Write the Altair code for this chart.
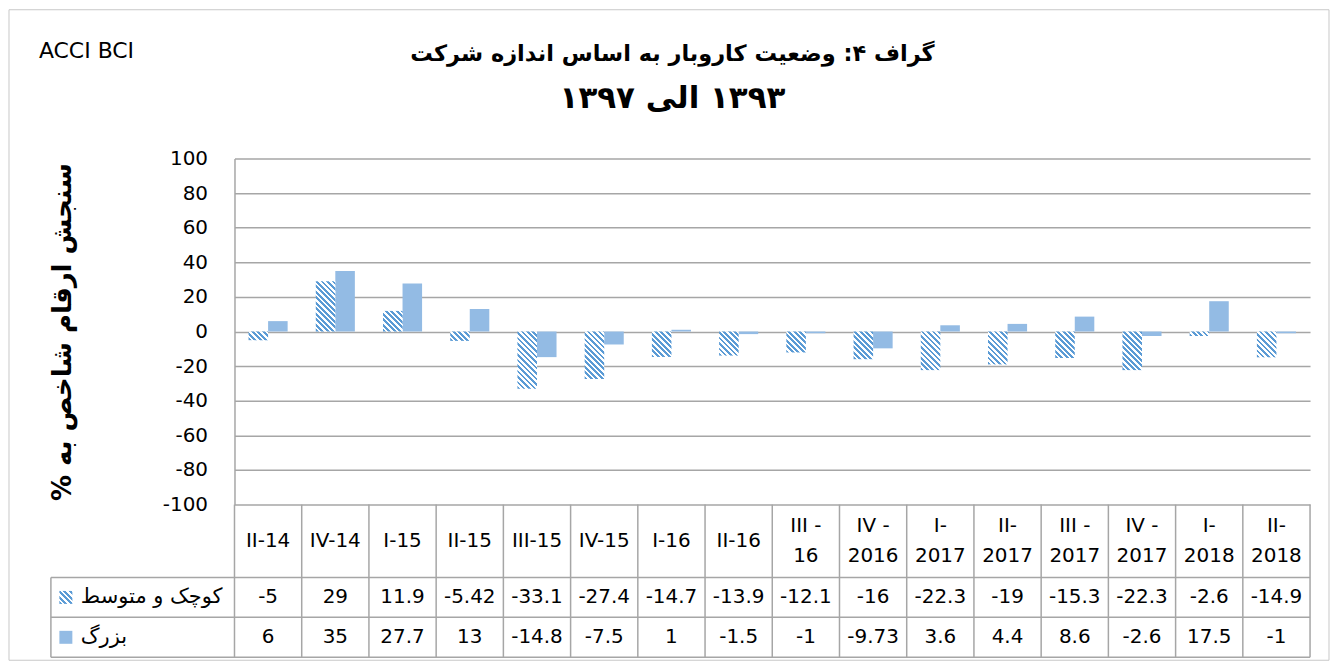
import altair as alt
import pandas as pd

# ---------------- data ----------------
categories = ["II-14", "IV-14", "I-15", "II-15", "III-15", "IV-15", "I-16", "II-16",
              "III - 16", "IV - 2016", "I- 2017", "II- 2017", "III - 2017", "IV - 2017",
              "I- 2018", "II- 2018"]
category_labels = ["II-14", "IV-14", "I-15", "II-15", "III-15", "IV-15", "I-16", "II-16",
                   "III -\n16", "IV -\n2016", "I-\n2017", "II-\n2017", "III -\n2017",
                   "IV -\n2017", "I-\n2018", "II-\n2018"]
series_names = ["کوچک و متوسط", "بزرگ"]
small_medium = [-5, 29, 11.9, -5.42, -33.1, -27.4, -14.7, -13.9, -12.1, -16, -22.3, -19,
                -15.3, -22.3, -2.6, -14.9]
large = [6, 35, 27.7, 13, -14.8, -7.5, 1, -1.5, -1, -9.73, 3.6, 4.4, 8.6, -2.6, 17.5, -1]
y_ticks = [-100, -80, -60, -40, -20, 0, 20, 40, 60, 80, 100]

title_line1 = "\u200fگراف ۴: وضعیت کاروبار به اساس اندازه شرکت"
title_line2 = "\u200f۱۳۹۳ الی ۱۳۹۷"
y_title = "\u200fسنجش ارقام شاخص به %\u200f"
source_label = "ACCI BCI"

# ---------------- layout / style ----------------
FONT = "DejaVu Sans"
W = 1078          # plot width
PH = 347          # bar area height
HDR = 73          # header row height
ROW = 40          # data row height
TB = PH + HDR + 2 * ROW
LEFT = -184       # left edge of the table label column
LH = 31           # line height of two-line header labels
PAD_OUT = 0.72
BAR_W = W / len(categories) / (2 + 2 * PAD_OUT)
HATCH = "#5b9bd5"
SOLID = "#93bbe4"
LINE = "#a6a6a6"
BORDER = "#c8c8c8"
TXT = 20


def hatch_gradient(w, h, p=5.5):
    h = max(h, 0.5)
    r = h / w
    k = (1 + r) / (1 + r * r)
    n = (w + h) / p
    stops = []
    j = 0
    while j < n:
        a = j / n
        b = min((j + 0.52) / n, 1)
        c = min((j + 1) / n, 1)
        stops += [(a, HATCH), (b, HATCH), (b, "white"), (c, "white")]
        j += 1
    return {"gradient": "linear", "x1": 0, "y1": 1, "x2": k, "y2": 1 - k * r,
            "stops": [{"offset": o, "color": col} for o, col in stops]}


df_small = pd.DataFrame({"cat": categories, "series": series_names[0], "value": small_medium,
                         "txt": [f"{v:g}" for v in small_medium]})
df_large = pd.DataFrame({"cat": categories, "series": series_names[1], "value": large,
                         "txt": [f"{v:g}" for v in large]})
df_cats = pd.DataFrame({"cat": categories, "label": category_labels,
                        "multi": ["\n" in s for s in category_labels]})

x_scale = alt.Scale(domain=categories, paddingInner=0, paddingOuter=0)
bar_x = alt.X("cat:N", scale=x_scale, axis=None)
bar_y = alt.Y(
    "value:Q",
    scale=alt.Scale(domain=[-100, 100], range=[PH, 0], nice=False, zero=False),
    axis=alt.Axis(values=y_ticks, grid=True, gridColor=LINE, gridWidth=1.5,
                  ticks=False, tickSize=0, domain=True, domainColor=LINE, domainWidth=1.5,
                  labelExpr="'' + datum.value",
                  labelFont=FONT, labelFontSize=TXT, labelColor="black", labelPadding=27,
                  title=y_title, titleFont=FONT, titleFontSize=26, titleFontWeight="bold",
                  titleColor="black", titleAngle=270, titleAlign="center",
                  titleBaseline="middle", titleX=-172, titleY=PH / 2),
)
xoff = alt.XOffset("series:N", scale=alt.Scale(domain=series_names, paddingInner=0,
                                               paddingOuter=PAD_OUT))

layers = []

# solid bars
layers.append(alt.Chart(df_large).mark_bar(color=SOLID).encode(x=bar_x, xOffset=xoff, y=bar_y))

# hatched bars (one gradient per bar so the stripes stay at 45 degrees)
for c, v in zip(categories, small_medium):
    grad = hatch_gradient(BAR_W, abs(v) * PH / 200)
    layers.append(
        alt.Chart(df_small).transform_filter(alt.datum.cat == c)
        .mark_bar(fill=grad, strokeWidth=0)
        .encode(x=bar_x, xOffset=xoff, y=bar_y)
    )

# table vertical lines
layers.append(
    alt.Chart(df_cats).mark_rule(color=LINE, strokeWidth=1.5).encode(
        x=alt.X("cat:N", scale=x_scale, axis=None, bandPosition=0),
        y=alt.value(PH), y2=alt.value(TB))
)
one = pd.DataFrame({"k": [0]})
layers.append(alt.Chart(one).mark_rule(color=LINE, strokeWidth=1.5).encode(
    x=alt.value(W), y=alt.value(PH), y2=alt.value(TB)))
layers.append(alt.Chart(one).mark_rule(color=LINE, strokeWidth=1.5).encode(
    x=alt.value(LEFT), y=alt.value(PH + HDR), y2=alt.value(TB)))
# table horizontal lines
for yy in [PH + HDR, PH + HDR + ROW, TB]:
    layers.append(alt.Chart(one).mark_rule(color=LINE, strokeWidth=1.5).encode(
        x=alt.value(LEFT), x2=alt.value(W), y=alt.value(yy)))

# header labels (single-line ones centred, two-line ones block-centred)
for multi, yy in [(False, PH + HDR / 2), (True, PH + HDR / 2 - LH / 2)]:
    layers.append(
        alt.Chart(df_cats).transform_filter(alt.datum.multi == multi)
        .mark_text(font=FONT, fontSize=TXT, lineBreak="\n", lineHeight=LH,
                   baseline="middle", color="black")
        .encode(x=bar_x, y=alt.value(yy), text="label:N")
    )
# table values
for dfi, yy in [(df_small, PH + HDR + ROW / 2), (df_large, PH + HDR + ROW * 1.5)]:
    layers.append(
        alt.Chart(dfi).mark_text(font=FONT, fontSize=TXT, baseline="middle", color="black")
        .encode(x=bar_x, y=alt.value(yy), text="txt:N")
    )

# row labels with legend keys
for i, name in enumerate(series_names):
    yy = PH + HDR + ROW * (i + 0.5)
    layers.append(
        alt.Chart(pd.DataFrame({"t": [name]})).mark_text(
            font=FONT, fontSize=21, align="left", baseline="middle", color="black")
        .encode(text="t:N", x=alt.value(LEFT + 30), y=alt.value(yy))
    )
    key_fill = hatch_gradient(13, 13) if i == 0 else SOLID
    layers.append(
        alt.Chart(one).mark_square(size=169, fill=key_fill, strokeWidth=0, opacity=1)
        .encode(x=alt.value(LEFT + 15), y=alt.value(yy))
    )

# titles
for txt, yy, fs in [(title_line1, -105, 22.5), (title_line2, -60, 31)]:
    layers.append(
        alt.Chart(pd.DataFrame({"t": [txt]})).mark_text(
            font=FONT, fontSize=fs, fontWeight="bold", align="center", baseline="middle",
            color="black")
        .encode(text="t:N", x=alt.value(439), y=alt.value(yy))
    )
layers.append(
    alt.Chart(pd.DataFrame({"t": [source_label]})).mark_text(
        font=FONT, fontSize=22, align="left", baseline="middle", color="black")
    .encode(text="t:N", x=alt.value(-196), y=alt.value(-108))
)

# outer chart border
layers.append(
    alt.Chart(one).mark_rect(fillOpacity=0, stroke=BORDER, strokeWidth=1).encode(
        x=alt.value(-226), x2=alt.value(1097), y=alt.value(-149), y2=alt.value(503))
)

chart = alt.layer(*layers).properties(
    width=W, height=TB, padding=0, background="white"
).configure_view(stroke=None)

chart.save("out.html", embed_options={"renderer": "svg", "actions": False})
